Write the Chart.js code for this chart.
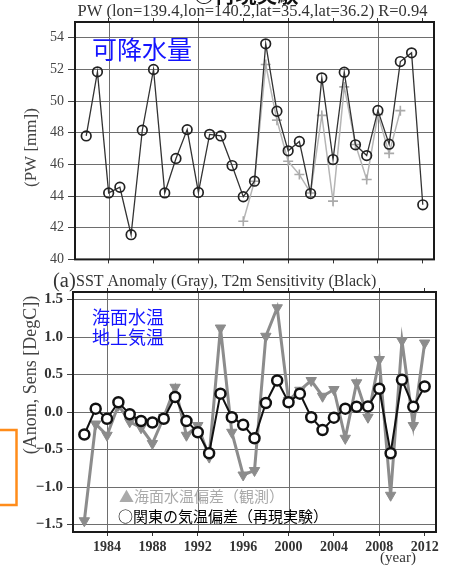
<!DOCTYPE html>
<html><head><meta charset="utf-8">
<script src="https://cdn.jsdelivr.net/npm/chart.js@4.4.0/dist/chart.umd.min.js"></script>
<style>
html,body{margin:0;padding:0;background:#fff;width:452px;height:566px;overflow:hidden;}
#c1{position:absolute;left:0;top:0;}
#c2{position:absolute;left:0;top:265px;background:#fff;}
</style></head><body>
<canvas id="c1" width="452" height="266"></canvas>
<canvas id="c2" width="452" height="301"></canvas>
<script>
const years=[1982,1983,1984,1985,1986,1987,1988,1989,1990,1991,1992,1993,1994,1995,1996,1997,1998,1999,2000,2001,2002,2003,2004,2005,2006,2007,2008,2009,2010,2011,2012];
const xTickYears=[1984,1988,1992,1996,2000,2004,2008,2012];
const gridYears=[1984,1992,2000,2008];
const pwTicks=[40,42,44,46,48,50,52,54];
const anomTicks=[-1.5,-1.0,-0.5,0.0,0.5,1.0,1.5];
// top panel: precipitable water
const pwModel=[47.8,51.85,44.2,44.56,41.56,48.16,52.0,44.2,46.38,48.2,44.23,47.9,47.8,45.93,43.96,44.94,53.62,49.36,46.86,47.45,44.16,51.47,46.31,51.83,47.24,46.56,49.41,47.28,52.5,53.05,43.45];
const pwObs=[null,null,null,null,null,null,null,null,null,null,null,null,null,null,42.41,44.94,52.31,48.8,46.2,45.36,44.2,49.1,43.68,50.9,47.26,45.05,49.15,46.7,49.4,null,null];
// bottom panel
const sstAnom=[-1.45,-0.16,-0.31,0.09,-0.13,-0.21,-0.42,-0.07,0.33,-0.31,-0.18,-0.6,1.12,-0.27,-0.84,-0.78,1.01,1.39,0.155,0.29,0.42,0.21,0.3,-0.35,0.39,-0.07,0.7,-1.11,0.95,-0.18,0.92];
const t2mSens=[-0.30,0.045,-0.09,0.13,-0.03,-0.12,-0.14,-0.09,0.2,-0.12,-0.27,-0.55,0.245,-0.07,-0.17,-0.35,0.12,0.42,0.13,0.245,-0.07,-0.24,-0.075,0.045,0.07,0.075,0.31,-0.55,0.43,0.07,0.34];

const SERIF='"Liberation Serif","Times New Roman",serif';
const CJK='"Noto Sans CJK JP","Noto Sans CJK SC",sans-serif';
const GRID='#6e6e6e';

function pts(vals){return years.map((x,i)=>({x:x,y:vals[i]}));}

function fixFit(prop,val){
  return s=>{s[prop]=val;s.paddingTop=0;s.paddingBottom=0;s.paddingLeft=0;s.paddingRight=0;};
}

function xScale(pos,h,labels){
  return {type:'linear',position:pos,min:1981,max:2013,
    afterBuildTicks:s=>{s.ticks=xTickYears.map(v=>({value:v}));},
    afterFit:fixFit('height',h),
    border:{display:false},
    grid:{drawOnChartArea:false,color:'#333',tickColor:'#333',tickLength:4,lineWidth:1},
    ticks:labels?{display:true,font:{family:SERIF,size:14,weight:'bold'},color:'#333',padding:3,maxRotation:0,autoSkip:false,
      callback:v=>String(v)}:{display:false}
  };
}

function framePlugin(texts){
  return {id:'frameTexts',
  beforeDatasetsDraw(chart){
    const a=chart.chartArea,ctx=chart.ctx,xs=chart.scales.x;
    ctx.save();ctx.strokeStyle=GRID;ctx.lineWidth=1;
    gridYears.forEach(v=>{
      const px=Math.round(xs.getPixelForValue(v))+0.5;
      ctx.beginPath();ctx.moveTo(px,a.top);ctx.lineTo(px,a.bottom);ctx.stroke();
    });
    ctx.restore();
  },
  afterDraw(chart){
    const a=chart.chartArea,ctx=chart.ctx;
    ctx.save();
    ctx.strokeStyle='#1a1a1a';ctx.lineWidth=2;
    ctx.strokeRect(a.left,a.top,a.right-a.left,a.bottom-a.top);
    texts.forEach(t=>{
      ctx.save();
      if(t.rect){ctx.strokeStyle=t.color;ctx.lineWidth=t.lw;ctx.strokeRect(t.rect[0],t.rect[1],t.rect[2],t.rect[3]);ctx.restore();return;}
      ctx.font=t.font;ctx.fillStyle=t.color;
      ctx.textAlign=t.align||'left';ctx.textBaseline=t.baseline||'middle';
      ctx.translate(t.x,t.y);
      if(t.rot)ctx.rotate(t.rot);
      ctx.fillText(t.text,0,0);
      ctx.restore();
    });
    ctx.restore();
  }};
}

const common={responsive:false,animation:false,events:[],
  plugins:{legend:{display:false},tooltip:{enabled:false}}};

new Chart(document.getElementById('c1'),{
  type:'line',
  data:{datasets:[
    {data:pts(pwModel),borderColor:'#333',borderWidth:1.3,pointStyle:'circle',pointRadius:4.8,
     pointBorderColor:'#222',pointBorderWidth:1.7,pointBackgroundColor:'rgba(0,0,0,0)',order:0,tension:0},
    {data:pts(pwObs),borderColor:'#b5b5b5',borderWidth:1.5,pointStyle:'cross',pointRadius:5,
     pointBorderColor:'#aaa',pointBorderWidth:1.6,pointBackgroundColor:'rgba(0,0,0,0)',order:1,tension:0}
  ]},
  options:Object.assign({},common,{
    layout:{padding:{left:0,right:18,top:0,bottom:0}},
    scales:{
      x:xScale('bottom',6,false),
      x2:xScale('top',22,false),
      y:{type:'linear',min:40,max:55,
        afterBuildTicks:s=>{s.ticks=pwTicks.map(v=>({value:v}));},
        afterFit:fixFit('width',75),
        border:{display:false},
        grid:{color:GRID,tickColor:'#444',tickLength:7,lineWidth:1},
        ticks:{font:{family:SERIF,size:14},color:'#444',padding:4}}
    }
  }),
  plugins:[framePlugin([
    {text:'PW (lon=139.4,lon=140.2,lat=35.4,lat=36.2) R=0.94',x:252.5,y:12,font:'16.5px '+SERIF,color:'#333',align:'center'},
    {text:'(PW [mm])',x:31.7,y:147.6,font:'17px '+SERIF,color:'#444',align:'center',rot:-Math.PI/2},
    {text:'可降水量',x:92,y:49,font:'25px '+CJK,color:'#1414ff'},
    {text:'○再現実験',x:246,y:1.5,font:'bold 21px '+CJK,color:'#111',align:'center',baseline:'alphabetic'}
  ])]
});

new Chart(document.getElementById('c2'),{
  type:'line',
  data:{datasets:[
    {data:pts(t2mSens),borderColor:'#111',borderWidth:2,pointStyle:'circle',pointRadius:5,
     pointBorderColor:'#111',pointBorderWidth:2.5,pointBackgroundColor:'#fff',order:0,tension:0},
    {data:pts(sstAnom),borderColor:'#8c8c8c',borderWidth:3,pointStyle:'triangle',pointRotation:180,pointRadius:6,
     pointBorderColor:'#8c8c8c',pointBorderWidth:1,pointBackgroundColor:'#8c8c8c',order:1,tension:0}
  ]},
  options:Object.assign({},common,{
    layout:{padding:{left:0,right:16,top:0,bottom:0}},
    scales:{
      x:xScale('bottom',34,true),
      x2:xScale('top',27,false),
      y:{type:'linear',min:-1.6,max:1.6,
        afterBuildTicks:s=>{s.ticks=anomTicks.map(v=>({value:v}));},
        afterFit:fixFit('width',73),
        border:{display:false},
        grid:{color:GRID,tickColor:'#444',tickLength:6,lineWidth:1},
        ticks:{font:{family:SERIF,size:15,weight:'bold'},color:'#333',padding:4,
          callback:v=>(v<0?'\u2212':'')+Math.abs(v).toFixed(1)}}
    }
  }),
  plugins:[framePlugin([
    {text:'(a)',x:53,y:16.5,font:'20.5px '+SERIF,color:'#333'},
    {text:'SST Anomaly (Gray), T2m Sensitivity (Black)',x:76,y:17,font:'16px '+SERIF,color:'#333'},
    {text:'(Anom, Sens [DegC])',x:31.7,y:110,font:'18px '+SERIF,color:'#444',align:'center',rot:-Math.PI/2},
    {text:'海面水温',x:92,y:51.7,font:'18px '+CJK,color:'#1414ff'},
    {text:'地上気温',x:92,y:71.7,font:'18px '+CJK,color:'#1414ff'},
    {text:'▲海面水温偏差（観測）',x:119,y:231,font:'15px '+CJK,color:'#aaaaaa'},
    {text:'○関東の気温偏差（再現実験）',x:118,y:251.7,font:'15px '+CJK,color:'#000'},
    {text:'(year)',x:398,y:293,font:'15px '+SERIF,color:'#333',align:'center'},
    {rect:[-3,165,19.5,75],color:'#ff8c1a',lw:2.5}
  ])]
});
</script>
</body></html>
